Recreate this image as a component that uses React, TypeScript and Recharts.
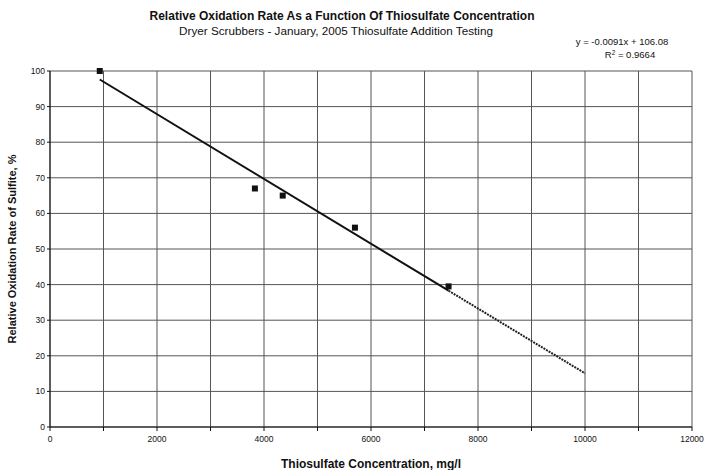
import React from 'react';
import { ScatterChart, Scatter, XAxis, YAxis, CartesianGrid, ZAxis } from 'recharts';

const concentrations = [930, 3830, 4350, 5700, 7450];
const oxidationRates = [100, 67, 65, 56, 39.5];
const xTicks = [0, 1000, 2000, 3000, 4000, 5000, 6000, 7000, 8000, 9000, 10000, 11000, 12000];
const yTicks = [0, 10, 20, 30, 40, 50, 60, 70, 80, 90, 100];
const slope = -0.0091;
const intercept = 106.08;
const trendStart = 930;
const trendSolidEnd = 7450;
const trendForecastEnd = 10000;

const points = concentrations.map((x, i) => ({ x, y: oxidationRates[i] }));
const fit = (x: number) => ({ x, y: slope * x + intercept });
const trendSolid = [fit(trendStart), fit(trendSolidEnd)];
const trendForecast = [fit(trendSolidEnd), fit(trendForecastEnd)];

const FONT = '"Liberation Sans", Arial, sans-serif';

const Square = (props: any) => {
  const { cx, cy } = props;
  return <rect x={cx - 3} y={cy - 3} width={6} height={6} fill="#111" />;
};

export default function App() {
  return (
    <div style={{ position: 'absolute', left: 0, top: 0, width: 711, height: 470, background: '#fff' }}>
      <ScatterChart width={711} height={470} margin={{ top: 71, right: 19, left: 0, bottom: 0 }}>
        <CartesianGrid stroke="#555" strokeWidth={1} />
        <XAxis
          type="number"
          dataKey="x"
          domain={[0, 12000]}
          ticks={xTicks}
          interval={0}
          height={43}
          tickFormatter={(v: number) => (v % 2000 === 0 ? String(v) : '')}
          tick={{ fontSize: 8.5, fill: '#111', fontFamily: FONT }}
          tickSize={4}
          tickMargin={5}
          stroke="#111"
          label={{ value: 'Thiosulfate Concentration, mg/l', position: 'insideBottom', offset: 2, style: { fontSize: 12, fontWeight: 'bold', fill: '#111', fontFamily: FONT } }}
        />
        <YAxis
          type="number"
          dataKey="y"
          domain={[0, 100]}
          ticks={yTicks}
          interval={0}
          width={50}
          tick={{ fontSize: 8.5, fill: '#111', fontFamily: FONT }}
          tickSize={3}
          stroke="#111"
          label={{ value: 'Relative Oxidation Rate of Sulfite, %', angle: -90, position: 'insideLeft', offset: 12, style: { textAnchor: 'middle', fontSize: 11, fontWeight: 'bold', fill: '#111', fontFamily: FONT } }}
        />
        <ZAxis range={[36, 36]} />
        <Scatter data={trendSolid} line={{ stroke: '#111', strokeWidth: 2 }} shape={() => null} isAnimationActive={false} />
        <Scatter data={trendForecast} line={{ stroke: '#222', strokeWidth: 2, strokeDasharray: '2 1' }} shape={() => null} isAnimationActive={false} />
        <Scatter data={points} shape={<Square />} isAnimationActive={false} />
        <text x={342} y={20} textAnchor="middle" style={{ fontSize: 12, fontWeight: 'bold', fill: '#111', fontFamily: FONT }}>
          Relative Oxidation Rate As a Function Of Thiosulfate Concentration
        </text>
        <text x={336} y={35} textAnchor="middle" style={{ fontSize: 11.7, fill: '#111', fontFamily: FONT }}>
          Dryer Scrubbers - January, 2005 Thiosulfate Addition Testing
        </text>
        <text x={622} y={45} textAnchor="middle" style={{ fontSize: 9.5, fill: '#111', fontFamily: FONT }}>
          y = -0.0091x + 106.08
        </text>
        <text x={630} y={58} textAnchor="middle" style={{ fontSize: 9.5, fill: '#111', fontFamily: FONT }}>
          R<tspan dy={-3} fontSize={6.5}>2</tspan><tspan dy={3}> = 0.9664</tspan>
        </text>
      </ScatterChart>
    </div>
  );
}
